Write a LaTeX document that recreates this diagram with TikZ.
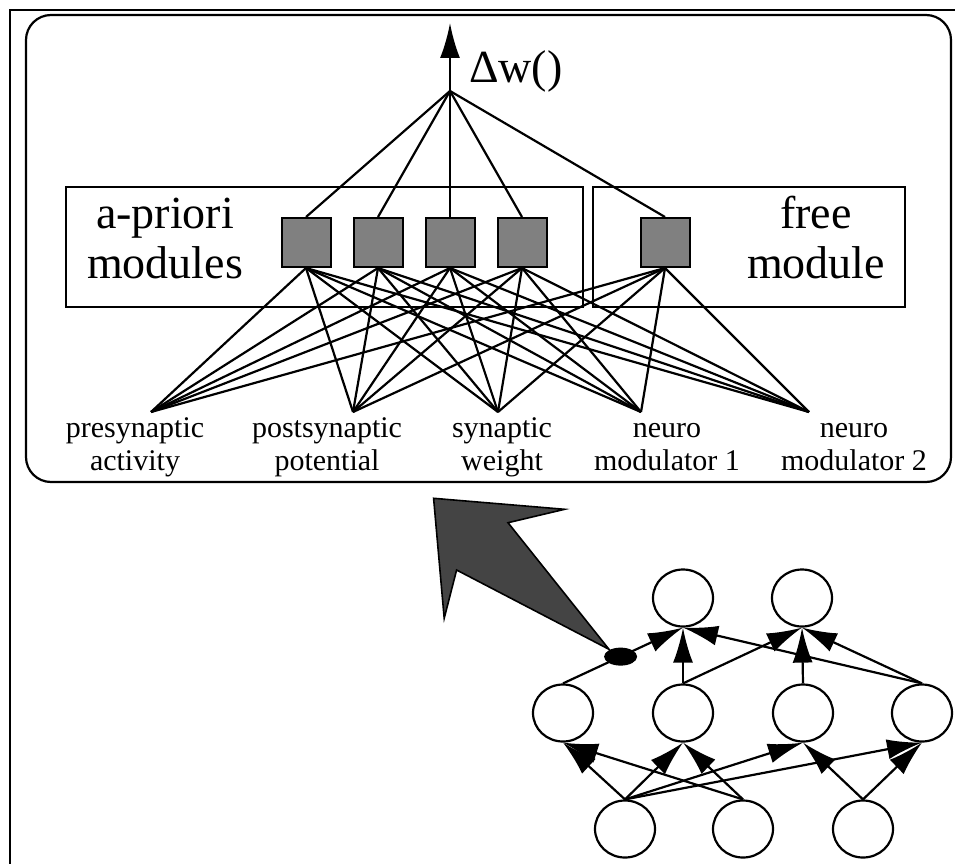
\documentclass[tikz,border=0pt]{standalone}
\usepackage{fontspec}
\setmainfont{Liberation Serif}
\usetikzlibrary{arrows.meta,shapes.geometric}
\definecolor{unitgray}{RGB}{128,128,128}
\definecolor{pointer}{RGB}{68,68,68}
\tikzset{
	bigtip/.style={-{Latex[length=35pt,width=20pt]}},
	unit/.style={draw,fill=unitgray,minimum size=49pt,inner sep=0pt,line width=2pt},
	cell/.style={draw,ellipse,minimum width=60pt,minimum height=57pt,inner sep=0pt},
	tapdot/.style={fill,ellipse,minimum width=33pt,minimum height=18pt,inner sep=0pt},
	biglabel/.style={font=\fontsize{46}{50}\selectfont,align=center,inner sep=0pt},
	inlabel/.style={font=\fontsize{30}{33}\selectfont,align=center,inner sep=0pt}
}
\begin{document}
\begin{tikzpicture}[x=1pt,y=-1pt,line width=2.2pt]
	\useasboundingbox (0,0) rectangle (955,864);
	\draw[line width=2.4pt] (962,10) -- (10,10) -- (10,872);
	\draw[rounded corners=25pt] (26,15) rectangle (951,482);
	% rule modules
	\draw (66,187) rectangle (583,307);
	\draw (593,187) rectangle (905,307);
	\node[biglabel,anchor=base] (apriori) at (165,278) {a-priori\\modules};
	\node[biglabel,anchor=base] (free) at (816,278) {free\\module};
	\foreach \x [count=\i] in {306,378,450,522,665}
	  \node[unit] (s\i) at (\x,242.5) {};
	\coordinate (fan) at (450,91);
	\coordinate (top) at (450,23);
	\draw[bigtip] (fan) -- (top);
	\node[font=\fontsize{46}{50}\selectfont,anchor=base west,inner sep=0pt] (dw) at (468,83) {Δw()};
	\foreach \i in {1,...,5}
	  \draw (fan) -- (s\i.north);
	% inputs
	\foreach \x [count=\j] in {151,353,498,641,809}
	  \coordinate (in\j) at (\x,412);
	\foreach \i in {1,...,5}
	  \foreach \j in {1,...,5}
	    \draw (s\i.south) -- (in\j);
	\node[inlabel,anchor=base] (lpre) at (135,470) {presynaptic\\activity};
	\node[inlabel,anchor=base] (lpost) at (327,470) {postsynaptic\\potential};
	\node[inlabel,anchor=base] (lsyn) at (502,470) {synaptic\\weight};
	\node[inlabel,anchor=base] (lmod1) at (667,470) {neuro\\modulator 1};
	\node[inlabel,anchor=base] (lmod2) at (854,470) {neuro\\modulator 2};
	% network
	\node[cell] (t1) at (683,598) {};
	\node[cell] (t2) at (802,598) {};
	\foreach \x [count=\i] in {563,683,803,922}
	  \node[cell] (m\i) at (\x,713) {};
	\foreach \x [count=\i] in {625,743,863}
	  \node[cell] (b\i) at (\x,829) {};
	\filldraw[fill=pointer,line width=1.6pt] (433.6,498.3) -- (564.6,509.3) -- (508,522.7)
	  -- (609,649.3) -- (456.6,570) -- (444.2,618.3) -- cycle;
	\draw[bigtip] (m1.north) -- node[pos=0.48,tapdot] (tap) {} (t1.south);
	\foreach \a/\b in {m2/t1,m4/t1,m2/t2,m3/t2,m4/t2,b1/m1,b1/m2,b1/m3,b1/m4,b2/m1,b2/m2,b3/m3,b3/m4}
	  \draw[bigtip] (\a.north) -- (\b.south);
\end{tikzpicture}
\end{document}
